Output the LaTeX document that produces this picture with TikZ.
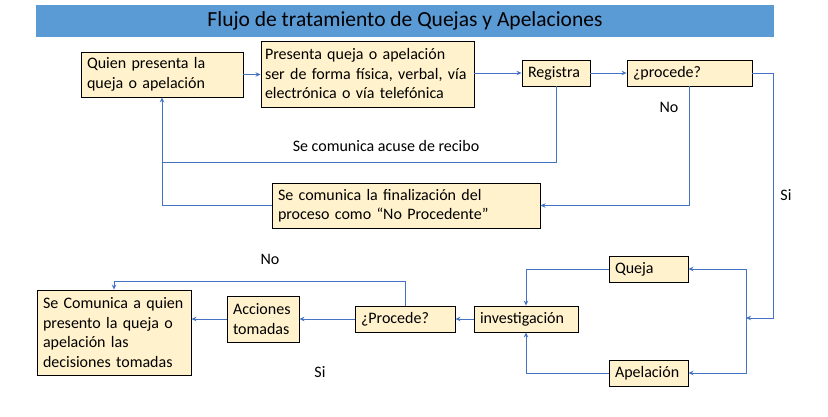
\documentclass[tikz,border=0pt]{standalone}
\usepackage{fontspec}
\setmainfont{Carlito}
\usetikzlibrary{arrows.meta, positioning, calc}
\definecolor{boxfill}{RGB}{255,242,204}
\definecolor{flowblue}{RGB}{68,114,196}
\definecolor{titleblue}{RGB}{91,155,213}

\begin{document}
\begin{tikzpicture}[x=1pt,y=-1pt,
    font=\fontsize{16pt}{19.5pt}\selectfont,
    stepbox/.style={draw=black,fill=boxfill,line width=0.9pt,align=left,inner xsep=6pt,inner ysep=0pt,anchor=center},
    flow/.style={draw=flowblue,line width=0.9pt,-{Stealth[length=5pt,width=4.5pt]}},
    flowline/.style={draw=flowblue,line width=0.9pt}]
    \useasboundingbox (0,0) rectangle (828,417);
    % Title
    \node[fill=titleblue,minimum width=738pt,minimum height=32pt,inner sep=0pt,font=\fontsize{21.5pt}{24pt}\selectfont] (title) at (405,21) {Flujo de tratamiento de Quejas y Apelaciones};
    % Boxes of the upper row
    \node[stepbox,text width=150pt,minimum height=45pt] (quien) at (162,74.5) {Quien presenta la\\queja o apelación};
    \node[stepbox,text width=205pt,inner xsep=4pt,minimum height=66pt] (presenta) at (367.5,74) {Presenta queja o apelación\\ser de forma física, verbal, vía\\electrónica o vía telefónica};
    \node[stepbox,text width=56pt,minimum height=26pt] (registra) at (556,73) {Registra};
    \node[stepbox,text width=113pt,minimum height=26pt] (procede) at (689.5,73) {¿procede?};
    \node[stepbox,text width=256pt,minimum height=45pt] (finaliza) at (406,205.5) {Se comunica la finalización del\\proceso como “No Procedente”};
    % Boxes of the lower row
    \node[stepbox,text width=67pt,minimum height=26pt] (queja) at (648.5,269) {Queja};
    \node[stepbox,text width=67pt,minimum height=26pt] (apelacion) at (648.5,373) {Apelación};
    \node[stepbox,text width=92pt,minimum height=26pt] (investig) at (526,319) {investigación};
    \node[stepbox,text width=88pt,minimum height=26pt] (procedeb) at (405,319) {¿Procede?};
    \node[stepbox,text width=60pt,minimum height=46pt] (acciones) at (263,319) {Acciones\\tomadas};
    \node[stepbox,text width=142pt,minimum height=85pt] (comunica) at (114,332.5) {Se Comunica a quien\\presento la queja o\\apelación las\\decisiones tomadas};
    % Bends
    \coordinate (siright) at (773,318);
    \coordinate (split) at (746,318);
    \coordinate (acuse) at (162,162);
    % Arrows of the upper row
    \draw[flow] (quien.east) -- (quien.east -| presenta.west);
    \draw[flow] (presenta.east |- registra.west) -- (registra.west);
    \draw[flow] (registra.east) -- (procede.west);
    \draw[flow] (registra.south) |- (acuse) -- (quien.south);
    \draw[flowline] (finaliza.west) -| (acuse);
    \draw[flow] (procede.south) |- (finaliza.east);
    \draw[flow] (procede.east) -| (siright) -- (split);
    % Arrows of the lower row
    \draw[flow] (split) |- (queja.east);
    \draw[flow] (split) |- (apelacion.east);
    \draw[flow] (queja.west) -| (investig.north);
    \draw[flow] (apelacion.west) -| (investig.south);
    \draw[flow] (investig.west) -- (procedeb.east);
    \draw[flow] (procedeb.west) -- (acciones.east);
    \draw[flow] (acciones.west) -- (acciones.west -| comunica.east);
    \draw[flow] (procedeb.north) -- ++(0,-24) -| (comunica.north);
    % Labels
    \node (acuselbl) at (386,146) {Se comunica acuse de recibo};
    \node (nolbl) at (669,107) {No};
    \node (silbl) at (786,195) {Si};
    \node (nolblb) at (270,259) {No};
    \node (silblb) at (320,372) {Si};
\end{tikzpicture}
\end{document}
